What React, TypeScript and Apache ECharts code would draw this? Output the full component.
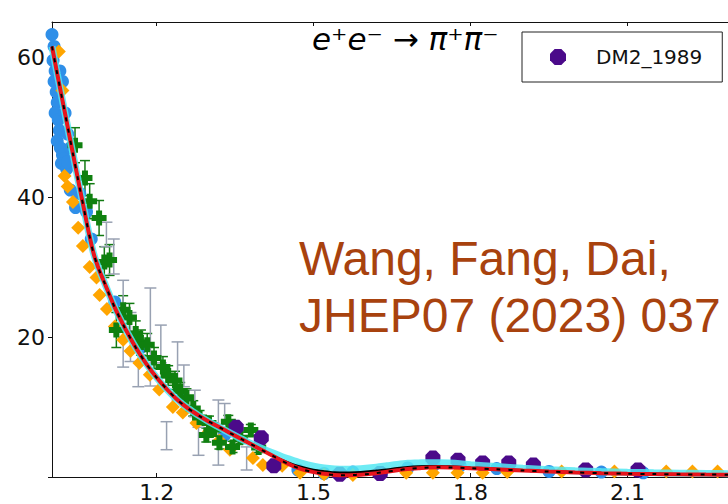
import React, { useEffect, useRef } from 'react';
import * as echarts from 'echarts';

// Fit curves (x = sqrt(s) GeV)
const fitX = [1.00,1.01,1.02,1.03,1.04,1.05,1.06,1.07,1.08,1.09,1.10,
  1.12,1.14,1.16,1.18,1.20,1.22,1.24,1.26,1.28,1.30,1.32,1.34,1.36,1.38,1.40,1.42,1.44,1.46,1.48,1.50,1.52,1.54,1.56,1.58,1.60,1.62,1.64,1.66,1.68,1.70,1.72,1.74,1.76,1.78,1.80,
  1.85,1.90,1.95,2.00,2.05,2.10,2.15,2.20,2.25,2.30,2.36];
const fitBlack = [61.5,57.6,53.8,50.0,46.2,42.4,38.7,35.0,31.8,29.6,27.8,
  24.2,21.2,18.5,16.2,14.2,12.5,11.0,9.8,8.8,7.9,7.1,6.3,5.5,4.7,3.9,3.1,2.4,1.8,1.35,1.0,0.8,0.65,0.6,0.65,0.75,0.9,1.05,1.25,1.4,1.5,1.55,1.55,1.5,1.42,1.33,
  1.15,0.95,0.8,0.68,0.58,0.5,0.45,0.4,0.37,0.35,0.33];
const fitRed = [61.5,57.6,53.8,50.0,46.2,42.4,38.7,35.0,31.8,29.6,27.8,
  24.2,21.2,18.5,16.2,14.2,12.5,11.0,9.8,8.8,7.9,7.1,6.3,5.5,4.7,3.9,3.1,2.3,1.6,1.05,0.7,0.45,0.3,0.25,0.3,0.4,0.55,0.75,0.95,1.15,1.25,1.35,1.38,1.36,1.32,1.25,
  1.1,0.92,0.77,0.65,0.55,0.47,0.42,0.38,0.35,0.33,0.31];
const fitBand = [61.5,57.6,53.8,50.0,46.2,42.4,38.7,35.0,31.8,29.6,27.8,
  24.2,21.2,18.5,16.2,14.2,12.5,11.0,9.8,8.8,7.9,7.1,6.3,5.5,4.8,4.1,3.5,2.9,2.4,1.9,1.55,1.3,1.15,1.1,1.15,1.25,1.4,1.6,1.8,1.95,2.0,2.05,2.05,2.0,1.9,1.75,
  1.5,1.25,1.05,0.9,0.78,0.68,0.6,0.55,0.5,0.47,0.45];

// Blue circles
const blueX = [1.000,1.004,1.002,1.006,1.004,1.008,1.010,1.006,1.012,1.014,1.010,1.016,1.020,1.024,1.018,1.028,1.015,1.020,1.025,1.030,1.035,1.030,1.035,1.045,1.053,1.066,1.075,1.12,1.17,1.25,1.33,1.47,1.52,1.575,1.63,1.68,1.73,1.78,1.85,1.95,2.05,2.13];
const blueY = [63.2,61.5,59.5,58.0,56.5,55.0,53.5,52.0,51.0,49.5,48.0,47.0,46.0,45.5,44.8,44.0,58.0,56.5,52.0,49.0,47.0,45.0,41.0,38.5,40.5,37.9,34.0,25.0,18.5,11.5,6.0,1.0,0.5,0.7,0.6,1.3,1.7,1.6,1.2,0.8,0.7,0.6];

// Orange diamonds
const orangeX = [1.013,1.020,1.024,1.030,1.040,1.050,1.059,1.072,1.085,1.091,1.105,1.120,1.136,1.150,1.167,1.187,1.205,1.231,1.250,1.276,1.300,1.320,1.340,1.384,1.403,1.440,1.474,1.520,1.575,1.677,1.728,1.775,1.823,1.870,1.974,2.075,2.174,2.224,2.272];
const orangeY = [60.8,55.2,43.0,41.5,39.3,35.6,33.0,30.0,28.5,26.0,24.0,21.5,19.6,18.0,16.3,14.6,12.5,10.0,9.2,7.7,6.5,5.2,3.9,2.7,1.7,1.6,0.6,0.4,0.3,0.6,0.6,0.6,0.6,0.7,0.8,0.8,0.8,0.8,0.8];

// Green plus markers with errors
const greenX = [1.044,1.063,1.072,1.090,1.100,1.110,1.123,1.136,1.148,1.160,1.170,1.182,1.195,1.212,1.222,1.235,1.245,1.257,1.270,1.282,1.295,1.300,1.310,1.320,1.337,1.345,1.360,1.380,1.395];
const greenY = [47.4,42.7,39.4,37.0,30.7,31.0,21.0,23.9,22.8,20.5,19.2,18.9,17.0,15.7,14.5,13.8,12.3,11.4,9.8,8.5,6.0,7.7,6.8,4.9,7.9,4.3,5.6,6.7,4.2];
const greenErr = [2.5,2.5,2.5,2.5,2.2,2.2,2.5,2.0,2.0,1.8,1.8,1.6,1.5,1.5,1.4,1.3,1.2,1.2,1.1,1.0,1.0,1.0,0.9,0.9,0.9,0.8,0.8,0.8,0.7];

// Gray error bars
const grayX = [1.104,1.118,1.136,1.150,1.165,1.188,1.208,1.219,1.240,1.252,1.273,1.280,1.318,1.330,1.372,1.397];
const grayY = [34.6,31.5,22.0,20.0,16.0,23.9,19.0,5.9,15.0,14.5,10.5,5.0,6.3,9.0,2.6,4.8];
const grayLo = [32.9,29.0,15.7,16.5,12.9,13.0,16.3,3.9,11.0,12.9,8.6,3.1,1.7,7.5,1.0,4.1];
const grayHi = [36.4,34.0,28.1,23.5,19.6,27.0,21.7,7.9,19.3,16.0,12.4,7.1,11.0,10.5,4.3,5.6];

// DM2_1989 purple octagons
const dm2X = [1.352,1.400,1.424,1.550,1.627,1.728,1.776,1.823,1.873,1.920,2.020,2.120];
const dm2Y = [7.1,5.6,1.6,0.4,0.5,2.7,2.4,2.0,2.0,1.7,1.0,1.0];

const xTicks = [1.2, 1.5, 1.8, 2.1];

const OCTAGON = 'path://M0.29,0 L0.71,0 L1,0.29 L1,0.71 L0.71,1 L0.29,1 L0,0.71 L0,0.29 Z';
const PLUS = 'path://M3,0H7V3H10V7H7V10H3V7H0V3H3Z';

const zip = (a: number[], b: number[]) => a.map((v, i) => [v, b[i]]);

function errorBarSeries(name: string, data: number[][], color: string, cap: number, width: number) {
  return {
    name,
    type: 'custom',
    data,
    clip: true,
    z: 2,
    encode: { x: 0, y: [1, 2, 3] },
    renderItem: (params: any, api: any) => {
      const x = api.value(0);
      const lo = api.value(2);
      const hi = api.value(3);
      const top = api.coord([x, hi]);
      const bot = api.coord([x, lo]);
      const style = { stroke: color, lineWidth: width };
      return {
        type: 'group',
        children: [
          { type: 'line', shape: { x1: top[0], y1: top[1], x2: bot[0], y2: bot[1] }, style },
          { type: 'line', shape: { x1: top[0] - cap, y1: top[1], x2: top[0] + cap, y2: top[1] }, style },
          { type: 'line', shape: { x1: bot[0] - cap, y1: bot[1], x2: bot[0] + cap, y2: bot[1] }, style },
        ],
      };
    },
  };
}

export default function App() {
  const ref = useRef<HTMLDivElement>(null);
  useEffect(() => {
    if (!ref.current) return;
    const chart = echarts.init(ref.current, null, { renderer: 'svg' });
    const axisColor = '#111';
    const grayData = grayX.map((x, i) => [x, grayY[i], grayLo[i], grayHi[i]]);
    const greenBarData = greenX.map((x, i) => [x, greenY[i], greenY[i] - greenErr[i], greenY[i] + greenErr[i]]);
    const option: any = {
      animation: false,
      backgroundColor: '#fff',
      title: {
        text: 'e⁺e⁻ → π⁺π⁻',
        left: 312,
        top: 23,
        padding: 0,
        textStyle: { fontSize: 31, fontStyle: 'italic', fontWeight: 'normal', fontFamily: 'DejaVu Sans', color: '#000' },
      },
      legend: {
        left: 522,
        top: 32,
        padding: [15, 20, 15, 28],
        itemWidth: 66,
        itemHeight: 16,
        borderColor: '#222',
        borderWidth: 1,
        borderRadius: 0,
        backgroundColor: '#fff',
        selectedMode: false,
        data: [{ name: 'DM2_1989', icon: OCTAGON, itemStyle: { color: '#4b0a8a', opacity: 1 } }],
        textStyle: { fontSize: 20, fontFamily: 'DejaVu Sans', color: '#111' },
      },
      grid: { left: 52, top: 22, right: 0, height: 455 },
      xAxis: [
        {
          type: 'value', min: 1.0, max: 2.292, position: 'bottom',
          axisLine: { onZero: false, lineStyle: { color: axisColor, width: 1 } },
          axisTick: { inside: true, length: 4, customValues: xTicks, lineStyle: { color: axisColor } },
          axisLabel: { customValues: xTicks, fontSize: 22, fontFamily: 'DejaVu Sans', color: '#111', margin: 4, formatter: (v: number) => v.toFixed(1) },
          splitLine: { show: false },
        },
        {
          type: 'value', min: 1.0, max: 2.292, position: 'top',
          axisLine: { onZero: false, lineStyle: { color: axisColor, width: 1 } },
          axisTick: { inside: true, length: 4, customValues: xTicks, lineStyle: { color: axisColor } },
          axisLabel: { show: false },
          splitLine: { show: false },
        },
      ],
      yAxis: [
        {
          type: 'value', min: 0, max: 65, interval: 20,
          axisLine: { show: true, onZero: false, lineStyle: { color: axisColor, width: 1 } },
          axisTick: { show: true, length: 4, lineStyle: { color: axisColor } },
          axisLabel: {
            fontSize: 22, fontFamily: 'DejaVu Sans', color: '#111', margin: 7,
            showMaxLabel: false,
            formatter: (v: number) => (v === 0 || v > 60 ? '' : String(v)),
          },
          splitLine: { show: false },
        },
      ],
      graphic: [
        {
          type: 'text',
          left: 299,
          top: 230,
          style: {
            text: 'Wang, Fang, Dai,\nJHEP07 (2023) 037',
            font: '48px "Liberation Sans", Arial, sans-serif',
            fill: '#a8420e',
            lineHeight: 57,
          },
          z: 100,
        },
      ],
      series: [
        { name: 'blue', type: 'scatter', data: zip(blueX, blueY), symbol: 'circle', symbolSize: 13, itemStyle: { color: '#2f8fe8', opacity: 1 }, z: 2 },
        { name: 'orange', type: 'scatter', data: zip(orangeX, orangeY), symbol: 'diamond', symbolSize: 14, itemStyle: { color: '#ffa500', opacity: 1 }, z: 2 },
        errorBarSeries('greenErr', greenBarData, '#127a12', 5, 1.5),
        { name: 'green', type: 'scatter', data: zip(greenX, greenY), symbol: PLUS, symbolSize: 15, itemStyle: { color: '#0f800f', opacity: 1 }, z: 2 },
        errorBarSeries('grayErr', grayData, '#98a1b2', 6, 1.5),
        { name: 'DM2_1989', type: 'scatter', data: zip(dm2X, dm2Y), symbol: OCTAGON, symbolSize: 15, itemStyle: { color: '#4b0a8a', opacity: 1 }, z: 2 },
        { name: 'band', type: 'line', data: zip(fitX, fitBand), symbol: 'none', smooth: 0.3, lineStyle: { color: '#55e8f2', width: 7, opacity: 0.85 }, z: 3 },
        { name: 'fitBlack', type: 'line', data: zip(fitX, fitBlack), symbol: 'none', smooth: 0.3, lineStyle: { color: '#000', width: 2.5 }, z: 4 },
        { name: 'fitRed', type: 'line', data: zip(fitX, fitRed), symbol: 'none', smooth: 0.3, lineStyle: { color: '#e8141c', width: 4 }, z: 5 },
        { name: 'fitRedDash', type: 'line', data: zip(fitX, fitRed), symbol: 'none', smooth: 0.3, lineStyle: { color: '#000', width: 2, type: [4, 8] }, z: 6 },
      ],
    };
    chart.setOption(option);
    return () => chart.dispose();
  }, []);
  return <div ref={ref} style={{ position: 'fixed', left: 0, top: 0, width: 728, height: 504 }} />;
}
